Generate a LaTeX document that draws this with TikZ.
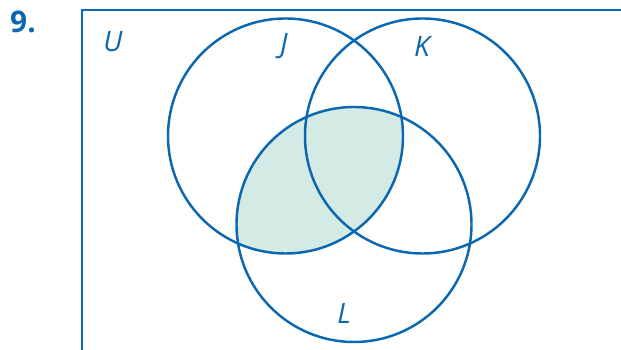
\documentclass[tikz,border=0pt]{standalone}
\usepackage{fontspec}
\setmainfont{Open Sans}
\definecolor{vennblue}{HTML}{0A67B0}
\definecolor{venntint}{HTML}{D3EAE5}

\begin{document}
\begin{tikzpicture}[x=0.02cm, y=-0.02cm, line width=1.4pt,
  setlabel/.style={text=vennblue, font=\fontsize{16}{19}\selectfont\itshape, inner sep=0pt}]
  \useasboundingbox (0,0) rectangle (621,350);
  % Circle centres
  \coordinate (cJ) at (285.5,136);
  \coordinate (cK) at (422.5,136);
  \coordinate (cL) at (354,224.5);
  % Shaded region: J and L overlap
  \begin{scope}
    \clip (cJ) circle (117.5);
    \fill[venntint] (cL) circle (117.5);
  \end{scope}
  % Universal set, open to the right and bottom
  \draw[vennblue] (82,350) -- (82,10) -- (621,10);
  % The three sets
  \draw[vennblue] (cJ) circle (117.5);
  \draw[vennblue] (cK) circle (117.5);
  \draw[vennblue] (cL) circle (117.5);
  % Labels
  \node[text=vennblue, font=\fontsize{17}{20}\selectfont\bfseries, inner sep=0pt]
    (num) at (23,22) {9.};
  \node[setlabel] (labU) at (113,42) {U};
  \node[setlabel] (labJ) at (284,46) {J};
  \node[setlabel] (labK) at (422,46) {K};
  \node[setlabel] (labL) at (344,313) {L};
\end{tikzpicture}
\end{document}
